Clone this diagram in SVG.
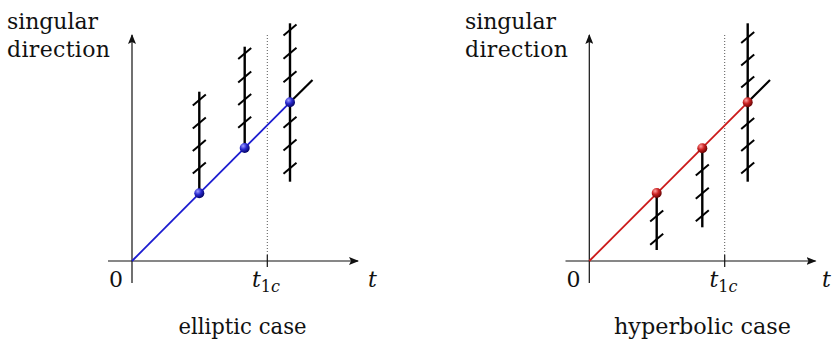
<svg xmlns="http://www.w3.org/2000/svg" xmlns:xlink="http://www.w3.org/1999/xlink" width="832" height="340" viewBox="0 0 832 340">
<style>
text{font-size:22px;fill:#111}
.it{font-style:italic}
.sub{font-size:16px}
.axis{stroke:#111;stroke-width:1.2;fill:none}
.dot{stroke:#555;stroke-width:1;stroke-dasharray:1 2;fill:none}
.tick{stroke:#111;stroke-width:1.2}
.vert{stroke:#000;stroke-width:2.4;fill:none}
.hatch{stroke:#000;stroke-width:2;fill:none}
.blue{stroke:#1c1cd0;stroke-width:1.8;fill:none}
.red{stroke:#cc1a1a;stroke-width:1.8;fill:none}
.cont{stroke:#000;stroke-width:2.2;fill:none}
</style>
<defs>
<line id="h" class="hatch" x1="-6.5" y1="5.5" x2="6.5" y2="-5.5"/>
<marker id="arr" viewBox="0 0 10 8" refX="9" refY="4" markerWidth="10" markerHeight="8" markerUnits="userSpaceOnUse" orient="auto">
<path d="M0,0 L10,4 L0,8 L2,4 Z" fill="#111"/>
</marker>
<radialGradient id="gb" cx="0.35" cy="0.3" r="0.75">
<stop offset="0" stop-color="#a0a0ff"/>
<stop offset="0.45" stop-color="#2a2ad0"/>
<stop offset="1" stop-color="#00005a"/>
</radialGradient>
<radialGradient id="gr" cx="0.35" cy="0.3" r="0.75">
<stop offset="0" stop-color="#ffa0a0"/>
<stop offset="0.45" stop-color="#cc2222"/>
<stop offset="1" stop-color="#5a0000"/>
</radialGradient>
</defs>

<g id="left-labels">
<text font-family="DejaVu Serif" x="7" y="29" textLength="91" lengthAdjust="spacing">singular</text>
<text font-family="DejaVu Serif" x="7" y="56.5" textLength="103" lengthAdjust="spacing">direction</text>
<text font-family="DejaVu Serif" x="109" y="287">0</text>
<text font-family="DejaVu Serif" class="it" x="368" y="287">t</text>
<text font-family="DejaVu Serif" x="252" y="287"><tspan class="it">t</tspan><tspan class="sub" dy="4.5">1</tspan><tspan class="sub it">c</tspan></text>
<text font-family="DejaVu Serif" x="242.5" y="334" text-anchor="middle" textLength="128" lengthAdjust="spacingAndGlyphs">elliptic case</text>
</g>
<g id="left-axes">
<line class="axis" x1="132" y1="283" x2="132" y2="35" marker-end="url(#arr)"/>
<line class="axis" x1="108" y1="261" x2="358" y2="261" marker-end="url(#arr)"/>
<line class="dot" x1="267.3" y1="35" x2="267.3" y2="255"/>
<line class="tick" x1="267.3" y1="255" x2="267.3" y2="267"/>
</g>
<g id="left-connectors">
<line class="blue" x1="132" y1="261" x2="290" y2="102.3"/>
<line class="cont" x1="290" y1="102.3" x2="312.5" y2="80"/>
</g>
<g id="left-col1">
<line class="vert" x1="199.3" y1="91.7" x2="199.3" y2="193.3"/>
<use xlink:href="#h" x="199.3" y="100"/>
<use xlink:href="#h" x="199.3" y="123"/>
<use xlink:href="#h" x="199.3" y="145.5"/>
<use xlink:href="#h" x="199.3" y="168"/>
<circle cx="199.3" cy="193.3" r="5" fill="url(#gb)"/>
</g>
<g id="left-col2">
<line class="vert" x1="244.7" y1="46.7" x2="244.7" y2="148"/>
<use xlink:href="#h" x="244.7" y="53.5"/>
<use xlink:href="#h" x="244.7" y="77"/>
<use xlink:href="#h" x="244.7" y="99.5"/>
<use xlink:href="#h" x="244.7" y="122.3"/>
<circle cx="244.7" cy="148" r="5" fill="url(#gb)"/>
</g>
<g id="left-col3">
<line class="vert" x1="290" y1="23.3" x2="290" y2="181.7"/>
<use xlink:href="#h" x="290" y="30"/>
<use xlink:href="#h" x="290" y="53.3"/>
<use xlink:href="#h" x="290" y="76.7"/>
<use xlink:href="#h" x="290" y="122.3"/>
<use xlink:href="#h" x="290" y="145"/>
<use xlink:href="#h" x="290" y="168.3"/>
<circle cx="290" cy="102.3" r="5" fill="url(#gb)"/>
</g>

<g id="right-labels">
<text font-family="DejaVu Serif" x="465" y="29" textLength="91" lengthAdjust="spacing">singular</text>
<text font-family="DejaVu Serif" x="465" y="56.5" textLength="103" lengthAdjust="spacing">direction</text>
<text font-family="DejaVu Serif" x="566.5" y="287">0</text>
<text font-family="DejaVu Serif" class="it" x="822" y="287">t</text>
<text font-family="DejaVu Serif" x="709.5" y="287"><tspan class="it">t</tspan><tspan class="sub" dy="4.5">1</tspan><tspan class="sub it">c</tspan></text>
<text font-family="DejaVu Serif" x="702.5" y="334" text-anchor="middle" textLength="177" lengthAdjust="spacingAndGlyphs">hyperbolic case</text>
</g>
<g id="right-axes">
<line class="axis" x1="589.3" y1="283" x2="589.3" y2="35" marker-end="url(#arr)"/>
<line class="axis" x1="565.5" y1="261" x2="815.5" y2="261" marker-end="url(#arr)"/>
<line class="dot" x1="724.7" y1="35" x2="724.7" y2="255"/>
<line class="tick" x1="724.7" y1="255" x2="724.7" y2="267"/>
</g>
<g id="right-connectors">
<line class="red" x1="589.3" y1="261" x2="747.7" y2="102.3"/>
<line class="cont" x1="747.7" y1="102.3" x2="770" y2="80"/>
</g>
<g id="right-col1">
<line class="vert" x1="656.7" y1="193" x2="656.7" y2="250"/>
<use xlink:href="#h" x="656.7" y="216"/>
<use xlink:href="#h" x="656.7" y="239.3"/>
<circle cx="656.7" cy="193" r="5" fill="url(#gr)"/>
</g>
<g id="right-col2">
<line class="vert" x1="702.3" y1="148.3" x2="702.3" y2="227.3"/>
<use xlink:href="#h" x="702.3" y="170"/>
<use xlink:href="#h" x="702.3" y="193.3"/>
<use xlink:href="#h" x="702.3" y="215.7"/>
<circle cx="702.3" cy="148.3" r="5" fill="url(#gr)"/>
</g>
<g id="right-col3">
<line class="vert" x1="747.7" y1="23.3" x2="747.7" y2="181.7"/>
<use xlink:href="#h" x="747.7" y="37.5"/>
<use xlink:href="#h" x="747.7" y="60"/>
<use xlink:href="#h" x="747.7" y="82"/>
<use xlink:href="#h" x="747.7" y="123.5"/>
<use xlink:href="#h" x="747.7" y="145.5"/>
<use xlink:href="#h" x="747.7" y="168"/>
<circle cx="747.7" cy="102.3" r="5" fill="url(#gr)"/>
</g>
</svg>
